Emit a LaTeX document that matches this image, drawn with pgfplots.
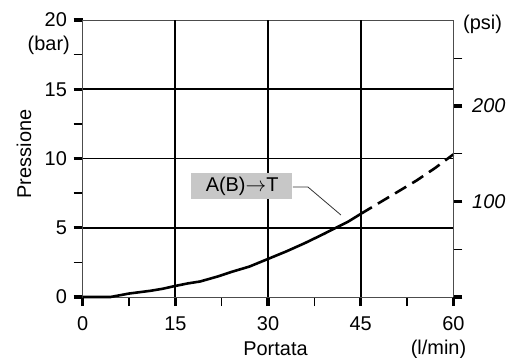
\documentclass[border=0pt]{standalone}
\usepackage{pgfplots}
\pgfplotsset{compat=1.18}
\usepackage{fontspec}
\setmainfont{Liberation Sans}
\begin{document}
\fontsize{20}{24}\selectfont
\begin{tikzpicture}
\useasboundingbox (-82.7bp,-61bp) rectangle (443.3bp,297bp);
\pgfplotsset{
  common/.style={
    at={(0,0)}, anchor=south west,
    scale only axis, width=370.7bp, height=277bp,
    xmin=0, xmax=60,
    axis line style={line width=0.9pt, black!70},
    tick align=outside,
    major tick length=9bp, minor tick length=9bp,
    every major tick/.append style={line width=3.5pt, black},
    every minor tick/.append style={line width=1.3pt, black},
    /pgf/number format/assume math mode=true,
  }
}
\begin{axis}[
  common,
  ymin=0, ymax=20,
  clip=false,
  xtick={0,15,30,45,60}, minor xtick={7.5,22.5,37.5,52.5},
  ytick={0,5,10,15,20}, minor ytick={2.5,7.5,12.5,17.5},
  xtick pos=bottom, ytick pos=left,
  xticklabel style={yshift=-4bp},
]
\draw[line width=1.8pt] (axis cs:15,0) -- (axis cs:15,20);
\draw[line width=1.8pt] (axis cs:30,0) -- (axis cs:30,20);
\draw[line width=1.8pt] (axis cs:45,0) -- (axis cs:45,20);
\draw[line width=1.8pt] (axis cs:0,5) -- (axis cs:60,5);
\draw[line width=1.8pt] (axis cs:0,10) -- (axis cs:60,10);
\draw[line width=1.8pt] (axis cs:0,15) -- (axis cs:60,15);
\addplot[line width=2.6pt, black] coordinates {
(0,0) (4.5,0) (7.5,0.25) (11,0.45) (13,0.6) (15,0.8) (17,0.98) (19,1.12)
(22,1.5) (24,1.8) (27,2.2) (30,2.75) (33,3.3) (36,3.9) (39,4.55) (41,5.0)
(43,5.45) (45,6.0)};
\addplot[line width=2.6pt, black, dash pattern=on 13bp off 7bp] coordinates {
(45,6.0) (48,6.8) (51,7.6) (54,8.4) (57,9.3) (60,10.3)};
\fill[black!22] (axis cs:17.53,7.08) rectangle (axis cs:33.87,8.95);
\node at (axis cs:25.8,8.02) {A(B)$\rightarrow$T};
\draw[line width=0.8pt, black!80] (axis cs:34,7.94) -- (axis cs:36.46,7.94) -- (axis cs:41.8,5.92);
\end{axis}
\begin{axis}[
  common,
  ymin=0, ymax=290.076,
  axis x line=none, axis y line*=right,
  ytick={0,100,200}, yticklabels={,100,200},
  minor ytick={50,150,250},
  yticklabel style={font=\itshape, xshift=3bp},
]
\addplot[draw=none] coordinates {(0,0) (60,290)};
\end{axis}
\node[anchor=east, inner sep=0] at (-12.7bp,252bp) {(bar)};
\node[anchor=west, inner sep=0] at (380.3bp,273bp) {(psi)};
\node[anchor=base] at (192.8bp,-58bp) {Portata};
\node[anchor=base] at (355.8bp,-57bp) {(l/min)};
\node[rotate=90] at (-58.7bp,143bp) {Pressione};
\end{tikzpicture}
\end{document}
